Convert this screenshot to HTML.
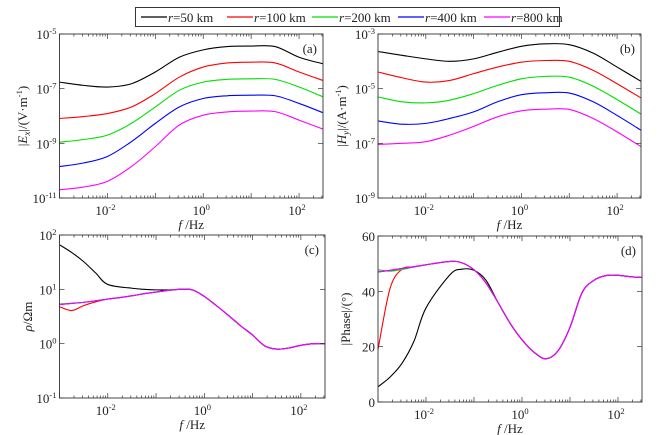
<!DOCTYPE html>
<html><head><meta charset="utf-8">
<style>
html,body{margin:0;padding:0;background:#fff;}
svg{display:block;font-family:"Liberation Serif",serif;}
</style></head>
<body>
<svg id="fig" width="659" height="435" viewBox="0 0 659 435" xmlns="http://www.w3.org/2000/svg"></svg>
<script>
const seriesNames = ['r=50 km','r=100 km','r=200 km','r=400 km','r=800 km'];
const seriesColors = ['#000000','#ff0000','#00e000','#0000ff','#ff00ff'];
// Panel (a) and (b): log10 frequency and log10 amplitude
const freqAB = [-3,-2.5,-2,-1.5,-1,-0.5,0,0.5,1,1.5,2,2.5];
const exBlack = [-6.76,-6.88,-6.94,-6.82,-6.39,-5.85,-5.58,-5.46,-5.44,-5.46,-5.85,-6.09];
const exRed = [-8.09,-8.02,-7.91,-7.67,-7.18,-6.58,-6.21,-6.06,-6.03,-6.06,-6.39,-6.70];
const exGreen = [-8.96,-8.86,-8.70,-8.27,-7.67,-7.06,-6.76,-6.66,-6.64,-6.66,-6.94,-7.30];
const exBlue = [-9.85,-9.72,-9.48,-8.94,-8.27,-7.67,-7.36,-7.26,-7.24,-7.26,-7.54,-7.88];
const exMagenta = [-10.70,-10.60,-10.39,-9.85,-9.12,-8.33,-7.97,-7.85,-7.82,-7.84,-8.15,-8.48];
const hyBlack = [-3.64,-3.78,-3.91,-4.00,-3.91,-3.67,-3.45,-3.36,-3.39,-3.70,-4.21,-4.73];
const hyRed = [-4.39,-4.60,-4.76,-4.70,-4.45,-4.21,-4.03,-3.97,-4.00,-4.33,-4.82,-5.34];
const hyGreen = [-5.30,-5.48,-5.52,-5.42,-5.18,-4.88,-4.64,-4.55,-4.58,-4.91,-5.40,-5.93];
const hyBlue = [-6.18,-6.30,-6.27,-6.09,-5.85,-5.48,-5.22,-5.15,-5.16,-5.48,-5.98,-6.52];
const hyMagenta = [-7.04,-7.00,-6.94,-6.70,-6.38,-6.03,-5.81,-5.75,-5.76,-6.09,-6.58,-7.12];
// Panel (c) and (d)
const freqCD = [-3,-2.75,-2.5,-2.25,-2,-1.5,-1.25,-1,-0.75,-0.5,-0.25,0,0.25,0.5,0.75,1,1.25,1.5,1.75,2,2.25,2.5];
const rhoBlack = [1.82,1.68,1.51,1.30,1.09,1.02,1.00,0.99,0.99,1.00,0.99,0.87,0.70,0.52,0.33,0.16,-0.04,-0.10,-0.08,-0.03,0,0];
const rhoRed = [0.68,0.61,0.70,0.77,0.82,0.88,0.92,0.95,0.98,1.00,0.99,0.87,0.70,0.52,0.33,0.16,-0.04,-0.10,-0.08,-0.03,0,0];
const rhoGreen = [0.73,0.745,0.76,0.79,0.82,0.88,0.92,0.95,0.98,1.00,0.99,0.87,0.70,0.52,0.33,0.16,-0.04,-0.10,-0.08,-0.03,0,0];
const rhoBlue = [0.72,0.74,0.76,0.79,0.82,0.88,0.92,0.95,0.98,1.00,0.99,0.87,0.70,0.52,0.33,0.16,-0.04,-0.10,-0.08,-0.03,0,0];
const rhoMagenta = [0.72,0.74,0.76,0.79,0.82,0.88,0.92,0.95,0.98,1.00,0.99,0.87,0.70,0.52,0.33,0.16,-0.04,-0.10,-0.08,-0.03,0,0];
const phBlack = [5.5,9,14,22,34,46,48,47.6,44,36,28.5,22.5,18,15.6,18.5,27,39.5,44,45.7,45.8,45.3,45.0];
const phRed = [19,41,48,48.8,49.6,50.8,50.3,47.8,43,36,28.5,22.5,18,15.6,18.5,27,39.5,44,45.7,45.8,45.3,45.0];
const phGreen = [47.8,47.3,47.9,48.8,49.6,50.8,50.3,47.8,43,36,28.5,22.5,18,15.6,18.5,27,39.5,44,45.7,45.8,45.3,45.0];
const phBlue = [47,47.6,48.3,48.9,49.6,50.8,50.3,47.8,43,36,28.5,22.5,18,15.6,18.5,27,39.5,44,45.7,45.8,45.3,45.0];
const phMagenta = [47,47.6,48.3,48.9,49.6,50.8,50.3,47.8,43,36,28.5,22.5,18,15.6,18.5,27,39.5,44,45.7,45.8,45.3,45.0];
const xTickExps = [-2,0,2];

const NS='http://www.w3.org/2000/svg';
const svg=document.getElementById('fig');
function mk(tag,attrs,parent){const e=document.createElementNS(NS,tag);for(const k in attrs)e.setAttribute(k,attrs[k]);(parent||svg).appendChild(e);return e;}

function smoothPath(pts){
  let d='M'+pts[0][0].toFixed(2)+','+pts[0][1].toFixed(2);
  for(let i=0;i<pts.length-1;i++){
    const p0=pts[Math.max(i-1,0)],p1=pts[i],p2=pts[i+1],p3=pts[Math.min(i+2,pts.length-1)];
    const c1=[p1[0]+(p2[0]-p0[0])/6,p1[1]+(p2[1]-p0[1])/6];
    const c2=[p2[0]-(p3[0]-p1[0])/6,p2[1]-(p3[1]-p1[1])/6];
    d+=' C'+c1[0].toFixed(2)+','+c1[1].toFixed(2)+' '+c2[0].toFixed(2)+','+c2[1].toFixed(2)+' '+p2[0].toFixed(2)+','+p2[1].toFixed(2);
  }
  return d;
}

function panel(cfg){
  const g=mk('g',{});
  
  
  const {x0,x1,y0,y1,ymin,ymax,logY}=cfg;
  const sx=v=>x0+(v-(-3))/(2.5-(-3))*(x1-x0);
  const sy=v=>y1-(v-ymin)/(ymax-ymin)*(y1-y0);
  // series
  cfg.series.forEach((vals,i)=>{
    const pts=cfg.freq.map((f,j)=>[sx(f),sy(vals[j])]);
    const p=mk('path',{d:smoothPath(pts),fill:'none',stroke:seriesColors[i],'stroke-width':1.1},g);
    
    
  });
  // box
  const box=mk('rect',{x:x0,y:y0,width:x1-x0,height:y1-y0,fill:'none',stroke:'#333','stroke-width':0.9},g);
  
  
  // x ticks
  for(let e=-3;e<=2;e++){
    for(let m=1;m<=9;m++){
      const v=e+Math.log10(m); if(v<-3||v>2.5)continue;
      const X=sx(v), L=m===1?5:2.5;
      mk('line',{x1:X,y1:y1,x2:X,y2:y1-L,stroke:'#333','stroke-width':0.7},g);
      mk('line',{x1:X,y1:y0,x2:X,y2:y0+L,stroke:'#333','stroke-width':0.7},g);
    }
  }
  xTickExps.forEach(e=>{
    const t=mk('text',{x:sx(e)-2,y:y1+17,'font-size':13,'text-anchor':'middle',fill:'#222'},g);
    
    
    t.innerHTML='10<tspan dy="-5" font-size="8.5">'+e+'</tspan>';
  });
  // y ticks
  cfg.yTicks.forEach(v=>{
    const Y=sy(v);
    mk('line',{x1:x0,y1:Y,x2:x0+5,y2:Y,stroke:'#333','stroke-width':0.7},g);
    mk('line',{x1:x1,y1:Y,x2:x1-5,y2:Y,stroke:'#333','stroke-width':0.7},g);
    const t=mk('text',{x:x0-3,y:Y+5,'font-size':13,'text-anchor':'end',fill:'#222'},g);
    
    
    if(logY) t.innerHTML='10<tspan dy="-5" font-size="8.5">'+v+'</tspan>';
    else t.textContent=v;
  });
  const xl=mk('text',{x:(x0+x1)/2,y:y1+31,'font-size':13,'text-anchor':'middle',fill:'#222'},g);
  
  
  xl.innerHTML='<tspan font-style="italic">f</tspan> /Hz';
  const yl=mk('text',{x:0,y:0,'font-size':13,'text-anchor':'middle',fill:'#222',transform:'translate('+(cfg.ylx)+','+((y0+y1)/2)+') rotate(-90)'},g);
  
  
  yl.innerHTML=cfg.ylabel;
  const pl=mk('text',{x:x1-6,y:y0+19,'font-size':13,'text-anchor':'end',fill:'#222'},g);
  
  
  pl.textContent=cfg.label;
}

panel({name:'panel-a',label:'(a)',x0:59.5,x1:323,y0:34,y1:198,ymin:-11,ymax:-5,logY:true,yTicks:[-11,-9,-7,-5],ylx:27,
  ylabel:'|<tspan font-style="italic">E</tspan><tspan font-style="italic" font-size="9" dy="3">x</tspan><tspan dy="-3">|/(V·m</tspan><tspan dy="-5" font-size="8.5">-1</tspan><tspan dy="5">)</tspan>',
  freq:freqAB,series:[exBlack,exRed,exGreen,exBlue,exMagenta]});
panel({name:'panel-b',label:'(b)',x0:378,x1:641,y0:34,y1:198,ymin:-9,ymax:-3,logY:true,yTicks:[-9,-7,-5,-3],ylx:346,
  ylabel:'|<tspan font-style="italic">H</tspan><tspan font-style="italic" font-size="9" dy="3">y</tspan><tspan dy="-3">|/(A·m</tspan><tspan dy="-5" font-size="8.5">-1</tspan><tspan dy="5">)</tspan>',
  freq:freqAB,series:[hyBlack,hyRed,hyGreen,hyBlue,hyMagenta]});
panel({name:'panel-c',label:'(c)',x0:59.5,x1:325,y0:235,y1:398,ymin:-1,ymax:2,logY:true,yTicks:[-1,0,1,2],ylx:32,
  ylabel:'<tspan font-style="italic">ρ</tspan>/Ωm',
  freq:freqCD,series:[rhoBlack,rhoRed,rhoGreen,rhoBlue,rhoMagenta]});
panel({name:'panel-d',label:'(d)',x0:378,x1:642,y0:236,y1:402,ymin:0,ymax:60,logY:false,yTicks:[0,20,40,60],ylx:350,
  ylabel:'|Phase|/(°)',
  freq:freqCD,series:[phBlack,phRed,phGreen,phBlue,phMagenta]});

// legend
const lg=mk('g',{});


const lb=mk('rect',{x:135.5,y:7.5,width:424,height:19,fill:'#fff',stroke:'#222','stroke-width':0.9},lg);


const legX=[141,227,312,398,484];
seriesNames.forEach((n,i)=>{
  const x=legX[i];
  const l=mk('line',{x1:x,y1:17,x2:x+26,y2:17,stroke:seriesColors[i],'stroke-width':1.2},lg);
  
  
  const t=mk('text',{x:x+27,y:22,'font-size':13,fill:'#222'},lg);
  
  
  t.innerHTML='<tspan font-style="italic">r</tspan>'+n.slice(1);
});
</script>
</body></html>
